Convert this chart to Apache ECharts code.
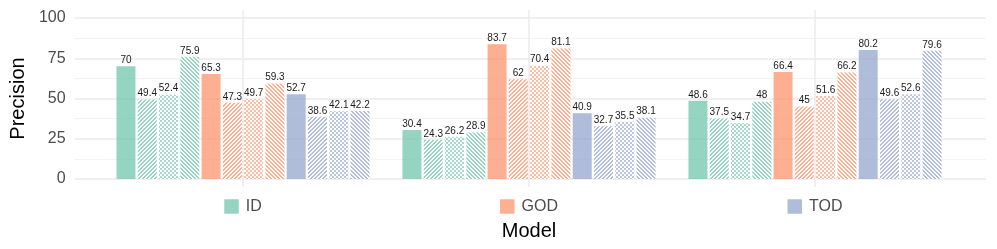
<!DOCTYPE html>
<html>
<head>
<meta charset="utf-8">
<script src="https://cdn.jsdelivr.net/npm/echarts@6/dist/echarts.min.js"></script>
<style>html,body{margin:0;padding:0;background:#fff}#c{width:997px;height:249px}</style>
</head>
<body>
<div id="c"></div>
<script>
// ---- data ----
const categories = ['ID', 'GOD', 'TOD'];
const variants = ['solid', 'stripeA', 'dots', 'stripeB'];
// each inner array: one bar variant across the three categories
const idValues = [[70, 30.4, 48.6], [49.4, 24.3, 37.5], [52.4, 26.2, 34.7], [75.9, 28.9, 48]];
const godValues = [[65.3, 83.7, 66.4], [47.3, 62, 45], [49.7, 70.4, 51.6], [59.3, 81.1, 66.2]];
const todValues = [[52.7, 40.9, 80.2], [38.6, 32.7, 49.6], [42.1, 35.5, 52.6], [42.2, 38.1, 79.6]];
const yTickMin = 0, yTickMax = 100, yTickStep = 25;

// ---- styles ----
const FONT = 'Liberation Sans, Arial, sans-serif';
const rgbs = { ID: '102,194,165', GOD: '252,141,98', TOD: '141,160,203' };
function solid(rgb) { return 'rgba(' + rgb + ',0.7)'; }
function pattern(rgb, kind) {
  const c = document.createElement('canvas');
  c.width = 4; c.height = 4;
  const ctx = c.getContext('2d');
  ctx.fillStyle = '#fff'; ctx.fillRect(0, 0, 4, 4);
  ctx.fillStyle = 'rgba(' + rgb + ',' + (kind === 'dots' ? 0.6 : 0.7) + ')';
  for (let y = 0; y < 4; y++) for (let x = 0; x < 4; x++) {
    let on = false;
    if (kind === 'stripeA') on = ((x + y) % 4) < 2;
    else if (kind === 'stripeB') on = ((x - y + 8) % 4) < 2;
    else if (kind === 'dots') on = ((Math.floor(x / 2) + Math.floor(y / 2)) % 2) === 0;
    if (on) ctx.fillRect(x, y, 1, 1);
  }
  return { image: c, repeat: 'repeat' };
}
function fill(model, variant) {
  return variant === 'solid' ? solid(rgbs[model]) : pattern(rgbs[model], variant);
}

const groups = [['ID', idValues], ['GOD', godValues], ['TOD', todValues]];
const barSeries = [];
groups.forEach(([model, vals]) => {
  variants.forEach((v, i) => {
    barSeries.push({
      name: model + ' ' + v,
      type: 'bar',
      xAxisIndex: 1, yAxisIndex: 1,
      data: vals[i],
      barWidth: 19,
      barGap: '12%',
      z: 3,
      itemStyle: { color: fill(model, v) },
      label: { show: true, position: 'top', distance: 1, fontSize: 10, color: '#1a1a1a', fontFamily: FONT },
      emphasis: { disabled: true }
    });
  });
});

const rich = { gap: { width: 7 }, t: { fontSize: 16, color: '#4D4D4D', fontFamily: FONT, padding: [1, 0, 0, 0] } };
categories.forEach(c => { rich['sq' + c] = { width: 14.5, height: 14.5, backgroundColor: solid(rgbs[c]) }; });

const chart = echarts.init(document.getElementById('c'), null, { renderer: 'canvas' });
chart.setOption({
  animation: false,
  backgroundColor: '#fff',
  grid: [
    { left: 71, right: 11, top: 18, bottom: 70 },
    { left: 100, right: 39, top: 10, bottom: 62 }
  ],
  xAxis: [
    { gridIndex: 0, type: 'value', min: 0, max: 1, show: false },
    {
      gridIndex: 1, type: 'category', data: categories,
      axisLine: { show: false }, axisTick: { show: false }, splitLine: { show: false },
      axisLabel: { interval: 0, margin: 11, formatter: v => '{sq' + v + '|}{gap|}{t|' + v + '}', rich: rich },
      name: 'Model', nameLocation: 'middle', nameGap: 34,
      nameTextStyle: { fontSize: 20, color: '#000', fontFamily: FONT }
    }
  ],
  yAxis: [
    {
      gridIndex: 0, type: 'value', min: yTickMin, max: yTickMax, interval: yTickStep,
      axisLine: { show: false }, axisTick: { show: false },
      axisLabel: { fontSize: 16, color: '#4D4D4D', fontFamily: FONT, margin: 9 },
      splitLine: { lineStyle: { color: '#EBEBEB', width: 1.5 } },
      minorTick: { show: false, splitNumber: 2 },
      minorSplitLine: { show: true, lineStyle: { color: '#F3F3F3', width: 1 } },
      name: 'Precision', nameLocation: 'middle', nameGap: 44,
      nameTextStyle: { fontSize: 20, color: '#000', fontFamily: FONT }
    },
    { gridIndex: 1, type: 'value', min: -5, max: 105, show: false }
  ],
  series: [
    { type: 'scatter', xAxisIndex: 0, yAxisIndex: 0, data: [], silent: true },
    {
      type: 'scatter', xAxisIndex: 1, yAxisIndex: 1, data: [], silent: true, z: 1,
      markLine: {
        silent: true, symbol: 'none', label: { show: false },
        lineStyle: { color: '#EBEBEB', width: 1.5, type: 'solid' },
        data: categories.map(c => ({ xAxis: c }))
      }
    }
  ].concat(barSeries)
});
</script>
</body>
</html>
